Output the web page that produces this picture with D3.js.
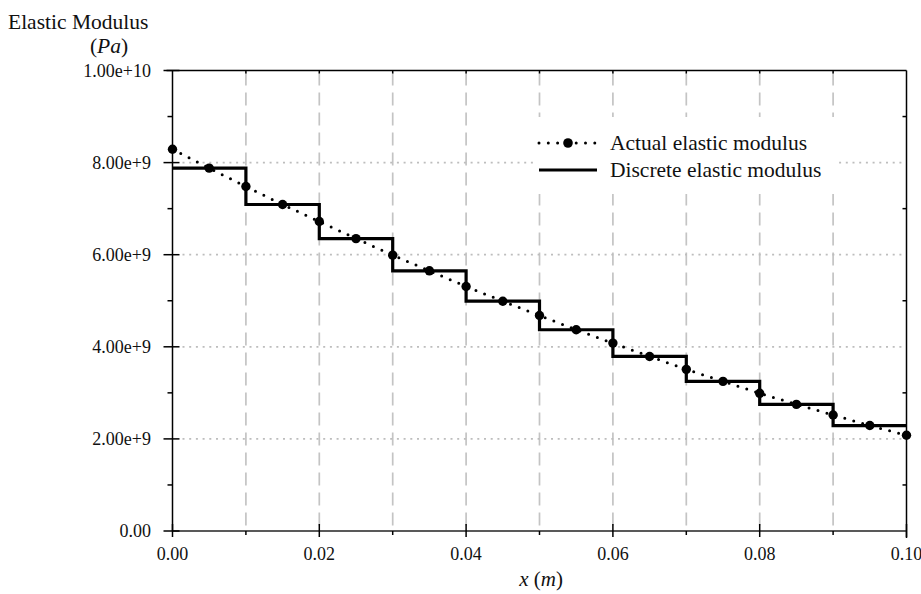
<!DOCTYPE html>
<html>
<head>
<meta charset="utf-8">
<script src="https://cdn.jsdelivr.net/npm/d3@7"></script>
<style>
  html, body { margin: 0; padding: 0; background: #fff; }
  svg { display: block; font-family: "Liberation Serif", "Times New Roman", serif; }
</style>
</head>
<body>
<svg id="chart" width="921" height="594"></svg>
<script>
// ---- data ----
const actualX = [0, 0.005, 0.01, 0.015, 0.02, 0.025, 0.03, 0.035, 0.04, 0.045, 0.05,
                 0.055, 0.06, 0.065, 0.07, 0.075, 0.08, 0.085, 0.09, 0.095, 0.1];
const actualY = [8.29e9, 7.88e9, 7.48e9, 7.09e9, 6.72e9, 6.35e9, 5.99e9, 5.65e9, 5.31e9, 4.99e9, 4.68e9,
                 4.37e9, 4.08e9, 3.79e9, 3.51e9, 3.25e9, 2.99e9, 2.75e9, 2.52e9, 2.29e9, 2.08e9];
const stepStarts = [0, 0.01, 0.02, 0.03, 0.04, 0.05, 0.06, 0.07, 0.08, 0.09];
const discreteY = [7.88e9, 7.09e9, 6.35e9, 5.65e9, 4.99e9, 4.37e9, 3.79e9, 3.25e9, 2.75e9, 2.29e9];
const xMajorTicks = [0, 0.02, 0.04, 0.06, 0.08, 0.10];
const xMinorTicks = [0.01, 0.03, 0.05, 0.07, 0.09];
const xTickLabels = ["0.00", "0.02", "0.04", "0.06", "0.08", "0.10"];
const yMajorTicks = [0, 2e9, 4e9, 6e9, 8e9, 1e10];
const yMinorTicks = [1e9, 3e9, 5e9, 7e9, 9e9];
const yTickLabels = ["0.00", "2.00e+9", "4.00e+9", "6.00e+9", "8.00e+9", "1.00e+10"];
const legendLabels = ["Actual elastic modulus", "Discrete elastic modulus"];

// ---- layout ----
const svg = d3.select("#chart");
const x = d3.scaleLinear().domain([0, 0.1]).range([172.5, 906.5]);
const y = d3.scaleLinear().domain([0, 1e10]).range([531, 70.5]);
const x0 = x.range()[0], x1 = x.range()[1], yb = y.range()[0], yt = y.range()[1];

// grid: vertical dashed
const gridV = xMajorTicks.concat(xMinorTicks).filter(d => d > 0 && d < 0.1);
svg.append("g").selectAll("line").data(gridV).join("line")
  .attr("x1", d => x(d)).attr("x2", d => x(d))
  .attr("y1", yt + 2).attr("y2", yb)
  .attr("stroke", "#c4c4c4").attr("stroke-width", 1.7)
  .attr("stroke-dasharray", "13,7");
// grid: horizontal dotted
svg.append("g").selectAll("line").data(yMajorTicks.filter(d => d > 0 && d < 1e10)).join("line")
  .attr("x1", x0 + 10).attr("x2", x1 - 3)
  .attr("y1", d => y(d)).attr("y2", d => y(d))
  .attr("stroke", "#bdbdbd").attr("stroke-width", 1.7)
  .attr("stroke-dasharray", "2,4.7");

// legend background (white box covering grid)
const lg = svg.append("g");
lg.append("rect").attr("x", 537).attr("y", 117).attr("width", 300).attr("height", 77).attr("fill", "#fff");

// frame
const frame = svg.append("g").attr("stroke", "#000").attr("stroke-width", 1.5).attr("fill", "none");
frame.append("line").attr("x1", x0).attr("x2", x0).attr("y1", yt).attr("y2", yb);
frame.append("line").attr("x1", x1).attr("x2", x1).attr("y1", yt).attr("y2", yb + 7);
frame.append("line").attr("x1", x0 - 6).attr("x2", x1).attr("y1", yt).attr("y2", yt);
frame.append("line").attr("x1", x0).attr("x2", x1).attr("y1", yb).attr("y2", yb).attr("stroke", "#222");

// x ticks (bottom)
svg.append("g").selectAll("line").data(xMajorTicks).join("line")
  .attr("x1", d => x(d)).attr("x2", d => x(d)).attr("y1", yb - 7).attr("y2", yb + 6)
  .attr("stroke", "#000").attr("stroke-width", 1.5);
svg.append("g").selectAll("line").data(xMinorTicks).join("line")
  .attr("x1", d => x(d)).attr("x2", d => x(d)).attr("y1", yb).attr("y2", yb + 4)
  .attr("stroke", "#000").attr("stroke-width", 1.5);
// top ticks
svg.append("g").selectAll("line").data(xMajorTicks.concat(xMinorTicks).filter(d => d > 0 && d < 0.1)).join("line")
  .attr("x1", d => x(d)).attr("x2", d => x(d)).attr("y1", yt).attr("y2", yt + 3)
  .attr("stroke", "#000").attr("stroke-width", 1.5);
// y ticks (left)
svg.append("g").selectAll("line").data(yMajorTicks).join("line")
  .attr("x1", x0 - 9).attr("x2", x0 + 7).attr("y1", d => y(d)).attr("y2", d => y(d))
  .attr("stroke", "#000").attr("stroke-width", 1.5);
svg.append("g").selectAll("line").data(yMinorTicks).join("line")
  .attr("x1", x0 - 5).attr("x2", x0).attr("y1", d => y(d)).attr("y2", d => y(d))
  .attr("stroke", "#000").attr("stroke-width", 1.5);
// right ticks
svg.append("g").selectAll("line").data(yMinorTicks).join("line")
  .attr("x1", x1 - 4).attr("x2", x1).attr("y1", d => y(d)).attr("y2", d => y(d))
  .attr("stroke", "#000").attr("stroke-width", 1.5);

// tick labels
svg.append("g").selectAll("text").data(xMajorTicks).join("text")
  .attr("x", d => x(d)).attr("y", 560).attr("text-anchor", "middle")
  .attr("font-size", 18).attr("fill", "#111").text((d, i) => xTickLabels[i]);
svg.append("g").selectAll("text").data(yMajorTicks).join("text")
  .attr("x", 151).attr("y", d => y(d)).attr("dy", "0.34em").attr("text-anchor", "end")
  .attr("font-size", 18).attr("fill", "#111").text((d, i) => yTickLabels[i]);

// axis titles
svg.append("text").attr("x", 8).attr("y", 29).attr("font-size", 21.5).attr("fill", "#111").text("Elastic Modulus");
const pa = svg.append("text").attr("x", 109).attr("y", 53).attr("text-anchor", "middle").attr("font-size", 21.5).attr("fill", "#111");
pa.append("tspan").text("(");
pa.append("tspan").attr("font-style", "italic").text("Pa");
pa.append("tspan").text(")");
const xl = svg.append("text").attr("x", 541).attr("y", 586).attr("text-anchor", "middle").attr("font-size", 21).attr("fill", "#111");
xl.append("tspan").attr("font-style", "italic").text("x");
xl.append("tspan").text(" (");
xl.append("tspan").attr("font-style", "italic").text("m");
xl.append("tspan").text(")");

// discrete step line
const stepPts = stepStarts.map((s, i) => [s, discreteY[i]]);
stepPts.push([0.1, discreteY[discreteY.length - 1]]);
svg.append("path").datum(stepPts)
  .attr("d", d3.line().x(d => x(d[0])).y(d => y(d[1])).curve(d3.curveStepAfter))
  .attr("fill", "none").attr("stroke", "#000").attr("stroke-width", 3.2);

// actual dotted line + markers
const actPts = actualX.map((v, i) => [v, actualY[i]]);
svg.append("path").datum(actPts)
  .attr("d", d3.line().x(d => x(d[0])).y(d => y(d[1])))
  .attr("fill", "none").attr("stroke", "#000").attr("stroke-width", 3)
  .attr("stroke-linecap", "round").attr("stroke-dasharray", "0,9.3");
svg.append("g").selectAll("circle").data(actPts).join("circle")
  .attr("cx", d => x(d[0])).attr("cy", d => y(d[1])).attr("r", 4.7).attr("fill", "#000");

// legend
lg.append("line").attr("x1", 539).attr("x2", 597).attr("y1", 143).attr("y2", 143)
  .attr("stroke", "#000").attr("stroke-width", 3).attr("stroke-linecap", "round").attr("stroke-dasharray", "0,9.3");
lg.append("circle").attr("cx", 568).attr("cy", 143).attr("r", 4.8).attr("fill", "#000");
lg.append("line").attr("x1", 539).attr("x2", 597).attr("y1", 170).attr("y2", 170)
  .attr("stroke", "#000").attr("stroke-width", 3.2);
lg.selectAll("text").data(legendLabels).join("text")
  .attr("x", 610).attr("y", (d, i) => 149.5 + i * 27)
  .attr("font-size", 21.5).attr("fill", "#111").text(d => d);
</script>
</body>
</html>
